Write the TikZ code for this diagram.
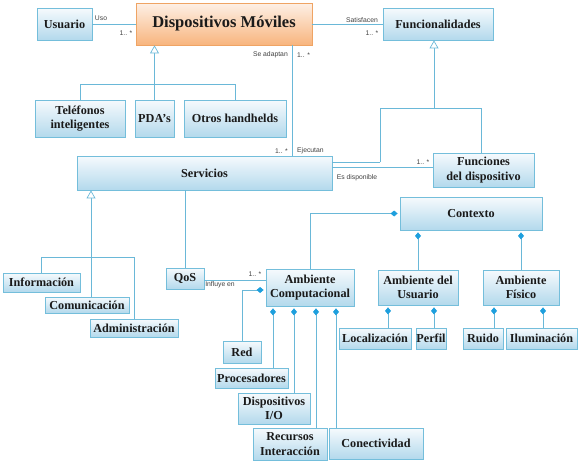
\documentclass[tikz,border=0pt]{standalone}
\usepackage{fontspec}
\setmainfont{Liberation Serif}
\newfontfamily\lblfont{Liberation Sans}
\usetikzlibrary{arrows.meta}
\definecolor{bxline}{HTML}{74BEDB}
\definecolor{bxtop}{HTML}{F6FAFD}
\definecolor{bxbot}{HTML}{B3D9EC}
\definecolor{ortop}{HTML}{FDF0E6}
\definecolor{orbot}{HTML}{F8B57E}
\definecolor{orline}{HTML}{EFA464}
\definecolor{lnc}{HTML}{6AB8D8}
\definecolor{dia}{HTML}{1E9FDD}
\definecolor{txt}{HTML}{1A1A1A}
\newcommand{\umlbox}[7][]{%
  \pgfmathsetmacro\umlW{#5-#3}\pgfmathsetmacro\umlH{#6-#4}%
  \node[bx,#1,minimum width=\umlW pt,minimum height=\umlH pt] (#2) at ({(#3+#5)/2},{(#4+#6)/2}) {#7};}
\tikzset{
  bx/.style={draw=bxline, line width=0.8pt, top color=bxtop, bottom color=bxbot, inner sep=0pt, align=center, text=txt,
    font=\fontsize{12.2}{14.5}\selectfont\bfseries},
  orbx/.style={draw=orline, top color=ortop, bottom color=orbot, font=\fontsize{16.5}{19}\selectfont\bfseries},
  ln/.style={draw=lnc, line width=0.7pt},
  gen/.style={ln, -{Triangle[open, length=8pt, width=9pt, fill=white]}},
  comp/.style={ln, -{Diamond[length=7pt, width=6pt, fill=dia, color=dia]}, shorten >=2pt},
  lbl/.style={font=\lblfont\fontsize{6.8}{7}\selectfont, text=black!75, inner sep=0pt}
}
\begin{document}
\begin{tikzpicture}[x=1pt,y=-1pt]
\useasboundingbox (0,0) rectangle (580,463);
% boxes
\umlbox{usu}{37}{8}{92}{40}{Usuario}
\umlbox[orbx]{dm}{136}{3}{312}{45}{Dispositivos Móviles}
\umlbox{fun}{383}{8}{493}{40}{Funcionalidades}
\umlbox{tel}{35}{100}{125}{137}{Teléfonos\\inteligentes}
\umlbox{pda}{135}{100}{174}{137}{PDA’s}
\umlbox{otros}{184}{100}{286}{137}{Otros handhelds}
\umlbox{serv}{77}{156}{332}{190}{Servicios}
\umlbox{fd}{433}{153}{534}{187}{Funciones\\del dispositivo}
\umlbox{ctx}{400}{197}{542}{230}{Contexto}
\umlbox{ac}{266}{269}{354}{306}{Ambiente\\Computacional}
\umlbox{au}{378}{270}{458}{305}{Ambiente del\\Usuario}
\umlbox{af}{483}{270}{559}{305}{Ambiente\\Físico}
\umlbox{loc}{339}{328}{411}{349}{Localización}
\umlbox{per}{416}{328}{446}{349}{Perfil}
\umlbox{rui}{463}{328}{503}{349}{Ruido}
\umlbox{ilu}{506}{328}{577}{349}{Iluminación}
\umlbox{qos}{166}{268}{204}{289}{QoS}
\umlbox{info}{3}{273}{80}{292}{Información}
\umlbox{com}{45}{297}{129}{313}{Comunicación}
\umlbox{adm}{90}{319}{178}{337}{Administración}
\umlbox{red}{223}{341}{261}{363}{Red}
\umlbox{proc}{215}{368}{288}{388}{Procesadores}
\umlbox{dio}{238}{393}{310}{424}{Dispositivos\\I/O}
\umlbox{ri}{253}{428}{327}{460}{Recursos\\Interacción}
\umlbox{con}{329}{428}{423}{459}{Conectividad}
% helper coordinates
\coordinate (g1) at (0,84);
\coordinate (g2x) at (434,0);
\coordinate (g2) at (0,108);
\coordinate (g2l) at (380,0);
\coordinate (g2r) at (481,0);
\coordinate (g3) at (91,257);
\coordinate (dmx) at (292,0);
% associations
\draw[ln] (usu) -- (dm);
\draw[ln] (dm) -- (fun);
\draw[ln] (dmx |- dm.south) -- (dmx |- serv.north);
\draw[ln] (serv.east |- 0,167) -- (fd.west |- 0,167);
\draw[ln] (qos.east |- 0,280) -- (ac.west |- 0,280);
\draw[ln] (serv.south -| qos.north) -- (qos.north);
% generalizations
\draw[ln] (tel.north) |- (otros.north |- g1) -- (otros.north);
\draw[gen] (pda.north) -- (pda.north |- dm.south);
\draw[ln] (g2l |- serv.east) ++(0,-11) coordinate (sj) -- (serv.east |- sj);
\draw[ln] (sj) |- (g2r |- g2) -- (g2r |- fd.north);
\draw[gen] (g2x |- g2) -- (g2x |- fun.south);
\draw[ln] (info.north) |- (adm.north |- g3) -- (adm.north);
\draw[gen] (g3 |- com.north) -- (g3 |- serv.south);
% compositions
\draw[comp] (ac.north) |- (ctx.west);
\draw[comp] (au.north) -- (au.north |- ctx.south);
\draw[comp] (af.north) -- (af.north |- ctx.south);
\draw[comp] (388,0 |- loc.north) -- (388,0 |- au.south);
\draw[comp] (434,0 |- per.north) -- (434,0 |- au.south);
\draw[comp] (494,0 |- rui.north) -- (494,0 |- af.south);
\draw[comp] (543,0 |- ilu.north) -- (543,0 |- af.south);
\draw[comp] (red.north) |- (ac.west |- 0,290);
\draw[comp] (273,0 |- proc.north) -- (273,0 |- ac.south);
\draw[comp] (294,0 |- dio.north) -- (294,0 |- ac.south);
\draw[comp] (316,0 |- ri.north) -- (316,0 |- ac.south);
\draw[comp] (336,0 |- con.north) -- (336,0 |- ac.south);
% labels
\node[lbl] (l1) at (101,18) {Uso};
\node[lbl] (l2) at (126,33) {1.. *};
\node[lbl] (l3) at (362,20) {Satisfacen};
\node[lbl] (l4) at (372,33) {1.. *};
\node[lbl, anchor=east] (l5) at (288,55) {Se adaptan};
\node[lbl, anchor=west] (l6) at (297,55) {1.. *};
\node[lbl, anchor=east] (l7) at (288,151) {1.. *};
\node[lbl, anchor=west] (l8) at (297,151) {Ejecutan};
\node[lbl] (l9) at (423,162) {1.. *};
\node[lbl] (l10) at (357,178) {Es disponible};
\node[lbl] (l11) at (255,274) {1.. *};
\node[lbl] (l12) at (220,285) {Influye en};
\end{tikzpicture}
\end{document}
